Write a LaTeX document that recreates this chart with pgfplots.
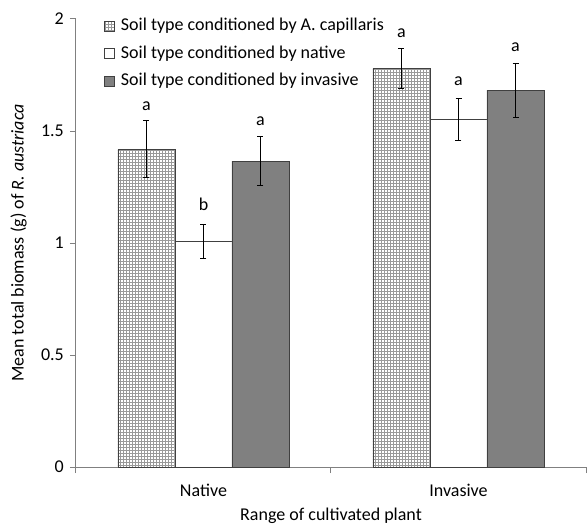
\documentclass[border=0pt]{standalone}
\usepackage{pgfplots}
\pgfplotsset{compat=1.18}
\usetikzlibrary{patterns}
\usepackage{fontspec}
\setmainfont{Carlito}
\definecolor{barfill}{HTML}{808080}
\definecolor{baredge}{HTML}{404040}
\definecolor{axgray}{HTML}{808080}
\pgfplotsset{sqlegend/.style={legend image code/.code={\draw[##1] (0pt,-5pt) rectangle (10pt,5pt); \path[draw=none] (13pt,0pt);}},
  myerr/.style={error bars/.cd, y dir=both, y explicit,
  error bar style={black, line width=1pt},
  error mark options={rotate=90, mark size=3pt, line width=1pt, black}}}
\begin{document}
\fontsize{18}{21.6}\selectfont
\begin{tikzpicture}
\useasboundingbox (-76pt,-61pt) rectangle (511pt,467pt);
\begin{axis}[
  at={(0pt,0pt)}, anchor=south west,
  scale only axis, width=510pt, height=448pt,
  xmin=-0.5, xmax=1.5, ymin=0, ymax=2,
  ytick={0,0.5,1,1.5,2},
  yticklabels={0,0.5,1,1.5,2},
  xtick={0,1}, xticklabels={Native,Invasive},
  minor xtick={-0.5,0.5,1.5},
  major x tick style={draw=none},
  tick align=outside,
  axis x line*=bottom, axis y line*=left,
  axis line style={axgray, line width=1pt},
  every tick/.style={axgray, line width=1pt},
  major tick length=6pt, minor tick length=6pt,
  ybar=0pt, bar width=57pt,
  clip=false,
  /pgf/number format/assume math mode=true,
  ticklabel style={font=\fontsize{18}{21.6}\selectfont},
  x tick label style={yshift=-5pt},
  label style={font=\fontsize{18}{21.6}\selectfont},
  xlabel style={yshift=1pt},
  ylabel style={yshift=2pt},
  xlabel={Range of cultivated plant},
  ylabel={Mean total biomass (g) of \textit{R. austriaca}},
  legend style={draw=none, fill=none, at={(0.049,1.008)}, anchor=north west,
    row sep=10.5pt, font=\fontsize{18}{21.6}\selectfont,
    nodes={inner xsep=3pt, inner ysep=0pt, text height=13pt, text depth=4pt}},
  legend cell align=left,
]
\addplot[fill=white, postaction={pattern=grid, pattern color=gray!80}, draw=baredge, line width=0.8pt,
  sqlegend, myerr]
  coordinates {(0,1.418) +- (0,0.127) (1,1.780) +- (0,0.089)};
\addplot[fill=white, draw=baredge, line width=0.8pt, sqlegend, myerr]
  coordinates {(0,1.006) +- (0,0.077) (1,1.552) +- (0,0.095)};
\addplot[fill=barfill, draw=baredge, line width=0.8pt, sqlegend, myerr]
  coordinates {(0,1.366) +- (0,0.110) (1,1.682) +- (0,0.120)};
\legend{Soil type conditioned by A. capillaris, Soil type conditioned by native, Soil type conditioned by invasive}
\node[inner sep=0pt] at (axis cs:-0.2235,1.612) {a};
\node[inner sep=0pt] at (axis cs:0,1.174) {b};
\node[inner sep=0pt] at (axis cs:0.2235,1.546) {a};
\node[inner sep=0pt] at (axis cs:0.7765,1.936) {a};
\node[inner sep=0pt] at (axis cs:1,1.723) {a};
\node[inner sep=0pt] at (axis cs:1.2235,1.876) {a};
\end{axis}
\end{tikzpicture}
\end{document}
